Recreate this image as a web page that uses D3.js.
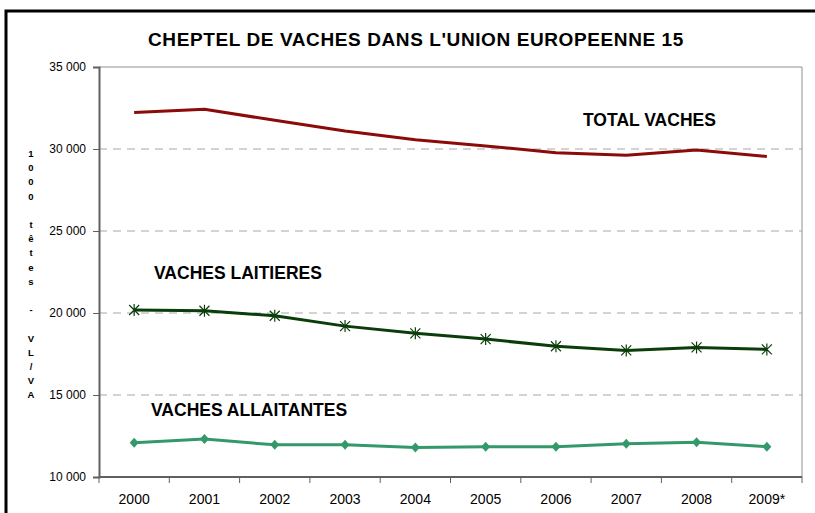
<!DOCTYPE html>
<html>
<head>
<meta charset="utf-8">
<script src="https://cdn.jsdelivr.net/npm/d3@7"></script>
<style>
  body { margin: 0; background: #fff; }
  text { font-family: "Liberation Sans", Arial, sans-serif; }
</style>
</head>
<body>
<div id="chart"></div>
<script>
// data (1000 têtes)
var years = ['2000','2001','2002','2003','2004','2005','2006','2007','2008','2009*'];
var totalVaches = [32220, 32420, 31750, 31100, 30560, 30190, 29770, 29620, 29940, 29540];
var vachesLaitieres = [20180, 20140, 19830, 19200, 18760, 18410, 17970, 17720, 17900, 17780];
var vachesAllaitantes = [12090, 12310, 11960, 11960, 11800, 11850, 11850, 12020, 12120, 11850];
var yTicks = [10000, 15000, 20000, 25000, 30000, 35000];
var yTitle = '1000 têtes - VL/VA';

drawChart();

function drawChart(){
    var width = 815, height = 513;
    var plotLeft = 99, plotRight = 802, plotTop = 67, plotBottom = 477;

    var svg = d3.select('#chart').append('svg')
        .attr('width', width)
        .attr('height', height);

    // outer frame
    svg.append('rect')
        .attr('x', 6).attr('y', 11)
        .attr('width', 830).attr('height', 530)
        .style('fill', 'none')
        .style('stroke', '#000')
        .style('stroke-width', 3);

    var x = d3.scaleBand().domain(years).range([plotLeft, plotRight]).padding(0);
    var y = d3.scaleLinear().domain([10000, 35000]).range([plotBottom, plotTop]);
    var fmt = d3.formatLocale({decimal: ',', thousands: ' ', grouping: [3], currency: ['', '']}).format(',');

    // grid lines
    svg.append('g').selectAll('line')
        .data(yTicks.filter(d => d > 10000 && d < 35000))
        .enter().append('line')
        .attr('x1', plotLeft).attr('x2', plotRight)
        .attr('y1', d => y(d)).attr('y2', d => y(d))
        .style('stroke', '#a8a8a8')
        .style('stroke-dasharray', '8,6');

    // plot frame top + right
    svg.append('path')
        .attr('d', 'M' + plotLeft + ',' + y(35000) + 'H' + plotRight + 'V' + plotBottom)
        .style('fill', 'none')
        .style('stroke', '#909090')
        .style('stroke-width', 1);

    // y axis
    var yAxis = d3.axisLeft(y).tickValues(yTicks).tickSize(6).tickFormat(fmt);
    var gy = svg.append('g')
        .attr('transform', 'translate(' + plotLeft + ',0)')
        .call(yAxis);
    gy.select('.domain').style('stroke', '#606060').style('stroke-width', 2);
    gy.selectAll('.tick line').style('stroke', '#606060');
    gy.selectAll('.tick text')
        .attr('x', -13)
        .style('font-size', '12px')
        .style('fill', '#000');

    // x axis
    var xAxis = d3.axisBottom(x).tickSize(0);
    var gx = svg.append('g')
        .attr('transform', 'translate(0,' + plotBottom + ')')
        .call(xAxis);
    gx.select('.domain').remove();
    gx.append('line')
        .attr('x1', plotLeft).attr('x2', plotRight)
        .style('stroke', '#606060').style('stroke-width', 2);
    gx.selectAll('.tick text')
        .attr('y', 17)
        .style('font-size', '14px')
        .style('fill', '#000');
    // tick marks between categories
    gx.append('g').selectAll('line')
        .data(years)
        .enter().append('line')
        .attr('x1', d => x(d) + x.bandwidth()).attr('x2', d => x(d) + x.bandwidth())
        .attr('y1', 0).attr('y2', 6)
        .style('stroke', '#606060');
    gx.append('line').attr('x1', plotLeft).attr('x2', plotLeft).attr('y1', 0).attr('y2', 6).style('stroke', '#606060');

    var cx = d => x(d) + x.bandwidth() / 2;

    function drawLine(values, color) {
        var line = d3.line()
            .x((d, i) => cx(years[i]))
            .y(d => y(d));
        svg.append('path')
            .datum(values)
            .attr('d', line)
            .style('fill', 'none')
            .style('stroke', color)
            .style('stroke-width', 3)
            .style('stroke-linejoin', 'round');
    }

    drawLine(totalVaches, '#8b0a0a');
    drawLine(vachesLaitieres, '#0b3d0b');
    drawLine(vachesAllaitantes, '#33996a');

    // asterisk markers
    svg.append('g').selectAll('path')
        .data(vachesLaitieres)
        .enter().append('path')
        .attr('transform', (d, i) => 'translate(' + cx(years[i]) + ',' + y(d) + ')')
        .attr('d', 'M-5,-5L5,5M-5,5L5,-5M0,-6V6')
        .style('stroke', '#0b3d0b')
        .style('stroke-width', 1.2);

    // diamond markers
    svg.append('g').selectAll('path')
        .data(vachesAllaitantes)
        .enter().append('path')
        .attr('transform', (d, i) => 'translate(' + cx(years[i]) + ',' + y(d) + ')')
        .attr('d', 'M0,-5L4.5,0L0,5L-4.5,0Z')
        .style('fill', '#33996a');

    // title
    svg.append('text')
        .attr('x', 416).attr('y', 46)
        .attr('text-anchor', 'middle')
        .style('font-size', '19px')
        .style('font-weight', 'bold')
        .style('letter-spacing', '0.6px')
        .text("CHEPTEL DE VACHES DANS L'UNION EUROPEENNE 15");

    // series labels
    var labels = [
        {t: 'TOTAL VACHES', x: 583, y: 126},
        {t: 'VACHES LAITIERES', x: 154, y: 279},
        {t: 'VACHES ALLAITANTES', x: 151, y: 416}
    ];
    svg.append('g').selectAll('text')
        .data(labels)
        .enter().append('text')
        .attr('x', d => d.x).attr('y', d => d.y)
        .style('font-size', '17.5px')
        .style('font-weight', 'bold')
        .text(d => d.t);

    // stacked vertical y title
    svg.append('g').selectAll('text')
        .data(yTitle.split(''))
        .enter().append('text')
        .attr('x', 31)
        .attr('y', (d, i) => 157 + i * 14.2)
        .attr('text-anchor', 'middle')
        .style('font-size', '9.5px')
        .style('font-weight', 'bold')
        .text(d => d);
}
</script>
</body>
</html>
